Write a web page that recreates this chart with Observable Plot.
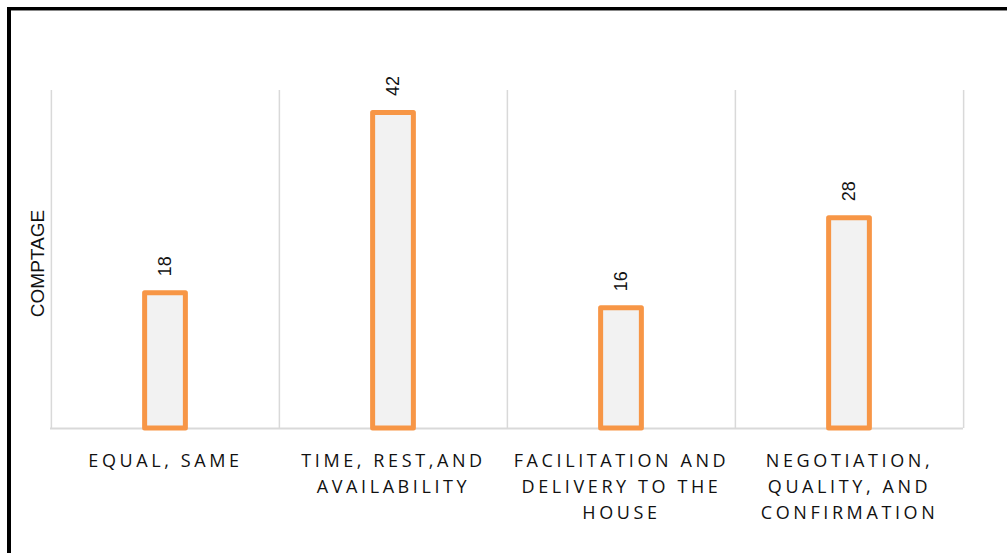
<!DOCTYPE html>
<html>
<head>
<meta charset="utf-8">
<script src="https://cdn.jsdelivr.net/npm/d3@7"></script>
<script src="https://cdn.jsdelivr.net/npm/@observablehq/plot@0.6"></script>
<style>
  html, body { margin: 0; padding: 0; background: #fff; overflow: hidden; }
  #wrap { position: relative; width: 1007px; height: 553px; overflow: hidden; }
  #frame { position: absolute; left: 7px; top: 7px; width: 1100px; height: 700px;
           border-left: 4px solid #000; border-top: 3px solid #000; box-sizing: border-box;
           pointer-events: none; z-index: 2; }
  #frame::after { content: ""; position: absolute; left: 0; top: 0; right: 0; height: 1px; background: #888; }
  #chart { position: absolute; left: 0; top: 0; }
  g[aria-label="x-axis tick label"] text { letter-spacing: 3.6px; }
</style>
</head>
<body>
<div id="wrap"><div id="chart"></div><div id="frame"></div></div>
<script>
const categories = ["EQUAL, SAME", "TIME, REST,AND AVAILABILITY", "FACILITATION AND DELIVERY TO THE HOUSE", "NEGOTIATION, QUALITY, AND CONFIRMATION"];
const tickLabels = ["EQUAL, SAME", "TIME, REST,AND\nAVAILABILITY", "FACILITATION AND\nDELIVERY TO THE\nHOUSE", "NEGOTIATION,\nQUALITY, AND\nCONFIRMATION"];
const counts = [18, 42, 16, 28];
const yTitle = "COMPTAGE";

const data = categories.map((c, i) => ({cat: c, value: counts[i]}));
const W = 1007, H = 553, mL = 50, mR = 44, mT = 90, mB = 125;
const bw = (W - mL - mR) / categories.length;
const barW = 41;
const ins = (bw - barW) / 2;

const chart = Plot.plot({
  width: W, height: H,
  marginLeft: mL, marginRight: mR, marginTop: mT, marginBottom: mB,
  style: {background: "none", fontFamily: "'Open Sans', sans-serif"},
  x: {type: "band", domain: categories, padding: 0, axis: null, label: null},
  y: {domain: [0, 45], axis: null, label: null},
  marks: [
    Plot.ruleX(categories, {x: d => d, dx: -bw / 2, stroke: "#d9d9d9", strokeWidth: 1.5}),
    Plot.ruleX([categories[categories.length - 1]], {x: d => d, dx: bw / 2, stroke: "#d9d9d9", strokeWidth: 1.5}),
    Plot.ruleY([0], {stroke: "#d9d9d9", strokeWidth: 2}),
    Plot.barY(data, {x: "cat", y: "value", fill: "#f2f2f2", stroke: "#f79646", strokeWidth: 5,
      strokeLinejoin: "round", insetLeft: ins, insetRight: ins}),
    Plot.text(data, {x: "cat", y: "value", text: d => String(d.value), rotate: -90, dy: -27,
      fontSize: 18, fill: "#111", fontFamily: "'Liberation Sans', Arial, sans-serif"}),
    Plot.axisX({domain: categories, label: null, tickSize: 0, tickPadding: 20, fontSize: 18, lineHeight: 1.45,
      tickFormat: d => tickLabels[categories.indexOf(d)], fill: "#111"}),
    Plot.text([yTitle], {frameAnchor: "left", textAnchor: "middle", rotate: -90, dx: -13, dy: 4, fontSize: 19, fill: "#111",
      fontFamily: "'Liberation Sans', Arial, sans-serif"})
  ]
});
document.getElementById("chart").appendChild(chart);
</script>
</body>
</html>
